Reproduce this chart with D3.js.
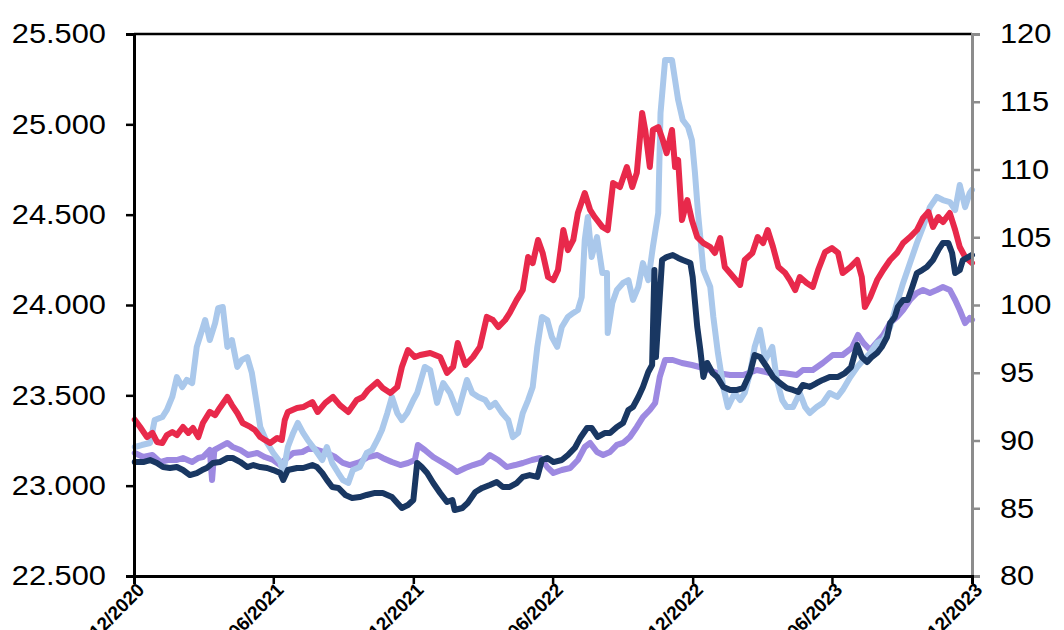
<!DOCTYPE html>
<html>
<head>
<meta charset="utf-8">
<script src="https://cdn.jsdelivr.net/npm/d3@7"></script>
<style>
  body { margin: 0; background: #fff; }
  svg { display: block; font-family: "Liberation Sans", Arial, sans-serif; }
</style>
</head>
<body>
<div id="chart"></div>
<script>
// day offsets are counted from 1 Dec 2020
const startDate = new Date(2020, 11, 1);
const endDate = new Date(2023, 11, 1);
const tickDates = [new Date(2020, 11, 1), new Date(2021, 5, 1), new Date(2021, 11, 1),
    new Date(2022, 5, 1), new Date(2022, 11, 1), new Date(2023, 5, 1), new Date(2023, 11, 1)];
const leftTicks = [22500, 23000, 23500, 24000, 24500, 25000, 25500];
const rightTicks = [80, 85, 90, 95, 100, 105, 110, 115, 120];

// red line, left axis
const redDays = [1, 8, 17, 24, 30, 37, 43, 50, 56, 64, 71, 77, 84, 90, 99, 106, 112, 122, 128, 135, 142, 152, 158, 165, 171, 178, 187, 193, 197, 201, 213, 221, 233, 240, 250, 260, 269, 280, 291, 299, 306, 318, 325, 335, 344, 350, 358, 367, 374, 387, 400, 409, 417, 423, 433, 443, 452, 461, 469, 476, 485, 491, 500, 508, 515, 521, 528, 534, 541, 548, 554, 561, 567, 574, 580, 589, 596, 602, 612, 619, 626, 635, 644, 651, 657, 664, 668, 674, 678, 685, 691, 696, 703, 707, 711, 716, 723, 729, 736, 744, 753, 759, 766, 772, 781, 792, 798, 808, 815, 822, 828, 835, 842, 851, 857, 864, 870, 879, 887, 894, 903, 912, 920, 926, 936, 945, 951, 955, 962, 971, 979, 988, 997, 1005, 1014, 1023, 1031, 1038, 1044, 1051, 1057, 1066, 1073, 1079, 1086, 1095];
const redValues = [23365, 23325, 23269, 23292, 23242, 23236, 23280, 23297, 23280, 23325, 23292, 23319, 23269, 23347, 23408, 23391, 23430, 23491, 23446, 23402, 23347, 23325, 23308, 23269, 23253, 23236, 23264, 23253, 23363, 23408, 23430, 23435, 23463, 23408, 23458, 23491, 23446, 23408, 23474, 23491, 23530, 23574, 23541, 23513, 23546, 23657, 23751, 23712, 23723, 23734, 23712, 23624, 23657, 23790, 23668, 23712, 23768, 23934, 23917, 23878, 23917, 23956, 24028, 24083, 24266, 24232, 24360, 24288, 24155, 24138, 24194, 24415, 24304, 24360, 24509, 24620, 24526, 24487, 24432, 24415, 24675, 24653, 24764, 24653, 24731, 25063, 24969, 24764, 24969, 24985, 24913, 24841, 24969, 24764, 24803, 24470, 24581, 24470, 24376, 24343, 24321, 24288, 24371, 24210, 24166, 24111, 24249, 24288, 24376, 24343, 24415, 24321, 24210, 24177, 24138, 24083, 24155, 24122, 24100, 24194, 24293, 24315, 24288, 24177, 24210, 24249, 24155, 23989, 24044, 24138, 24194, 24249, 24288, 24343, 24376, 24415, 24482, 24515, 24432, 24487, 24459, 24509, 24415, 24321, 24266, 24232];

// light blue line, left axis
const blueDays = [1, 10, 21, 27, 37, 43, 50, 56, 63, 69, 76, 82, 89, 93, 99, 106, 110, 116, 122, 128, 135, 141, 148, 154, 161, 165, 174, 182, 191, 195, 201, 208, 214, 221, 227, 237, 246, 252, 259, 267, 273, 280, 286, 295, 304, 311, 318, 324, 331, 337, 344, 350, 357, 365, 370, 380, 387, 396, 404, 413, 423, 435, 442, 450, 459, 465, 472, 481, 489, 495, 502, 508, 515, 521, 527, 533, 540, 546, 553, 559, 567, 574, 580, 585, 589, 593, 598, 605, 612, 618, 619, 625, 631, 639, 646, 652, 659, 665, 672, 678, 685, 688, 694, 703, 707, 711, 717, 724, 729, 733, 737, 744, 753, 757, 763, 770, 776, 785, 792, 798, 805, 811, 818, 825, 834, 840, 847, 853, 861, 870, 877, 883, 892, 900, 909, 919, 926, 936, 945, 953, 962, 971, 979, 988, 997, 1005, 1014, 1023, 1031, 1040, 1049, 1057, 1066, 1073, 1079, 1086, 1092, 1095];
const blueValues = [23214, 23225, 23236, 23363, 23380, 23419, 23491, 23601, 23546, 23585, 23568, 23768, 23862, 23917, 23806, 23900, 23983, 23989, 23768, 23806, 23657, 23696, 23712, 23624, 23435, 23325, 23236, 23181, 23131, 23070, 23214, 23292, 23347, 23292, 23253, 23197, 23142, 23214, 23125, 23070, 23031, 23015, 23087, 23103, 23181, 23197, 23253, 23308, 23402, 23491, 23402, 23363, 23402, 23474, 23513, 23657, 23640, 23458, 23568, 23513, 23402, 23585, 23513, 23491, 23474, 23435, 23458, 23402, 23363, 23269, 23292, 23402, 23474, 23546, 23768, 23934, 23917, 23823, 23768, 23878, 23934, 23956, 23972, 24044, 24360, 24487, 24266, 24376, 24177, 24177, 23845, 24011, 24083, 24122, 24138, 24028, 24100, 24232, 24138, 24321, 24509, 25063, 25356, 25356, 25245, 25135, 25024, 24985, 24913, 24731, 24509, 24194, 24100, 23934, 23734, 23546, 23435, 23513, 23474, 23513, 23624, 23768, 23862, 23696, 23768, 23585, 23474, 23435, 23435, 23513, 23435, 23402, 23435, 23458, 23513, 23491, 23530, 23601, 23657, 23696, 23734, 23790, 23806, 23878, 24011, 24122, 24232, 24343, 24432, 24542, 24598, 24581, 24570, 24526, 24664, 24542, 24620, 24637];

// dark navy line, right axis
const navyDays = [1, 12, 21, 30, 38, 47, 56, 64, 73, 82, 89, 95, 103, 112, 122, 129, 139, 148, 156, 165, 174, 182, 191, 195, 201, 213, 221, 233, 239, 246, 252, 259, 267, 276, 285, 295, 304, 315, 325, 337, 344, 350, 358, 365, 370, 376, 383, 391, 400, 409, 416, 419, 429, 436, 446, 455, 465, 474, 482, 491, 500, 508, 517, 527, 533, 540, 548, 559, 567, 576, 583, 592, 598, 606, 615, 622, 631, 639, 646, 652, 659, 665, 672, 677, 680, 682, 690, 696, 704, 711, 717, 727, 730, 736, 740, 744, 749, 756, 762, 770, 779, 788, 796, 805, 811, 818, 827, 835, 844, 853, 861, 868, 874, 883, 892, 900, 909, 920, 929, 937, 945, 951, 958, 964, 971, 977, 984, 988, 994, 998, 1005, 1011, 1017, 1023, 1030, 1036, 1044, 1051, 1057, 1064, 1069, 1073, 1079, 1083, 1090, 1095];
const navyValues = [88.41, 88.41, 88.56, 88.34, 88.04, 87.97, 88.04, 87.82, 87.45, 87.6, 87.82, 87.97, 88.34, 88.41, 88.71, 88.71, 88.41, 88.04, 88.19, 88.04, 87.97, 87.82, 87.6, 87.09, 87.82, 87.97, 87.97, 88.19, 88.04, 87.6, 87.09, 86.57, 86.5, 85.98, 85.76, 85.83, 85.98, 86.13, 86.13, 85.83, 85.39, 85.02, 85.24, 85.61, 88.34, 88.04, 87.6, 86.86, 86.13, 85.46, 85.61, 84.87, 85.02, 85.39, 86.2, 86.5, 86.72, 86.94, 86.57, 86.57, 86.86, 87.31, 87.45, 87.31, 88.56, 88.71, 88.41, 88.56, 88.93, 89.45, 90.18, 90.92, 90.92, 90.26, 90.55, 90.55, 91.0, 91.29, 92.25, 92.47, 93.21, 93.95, 95.06, 95.57, 102.58, 96.16, 103.32, 103.54, 103.69, 103.47, 103.32, 103.1, 102.07, 98.38, 96.68, 94.69, 95.72, 94.98, 94.69, 93.95, 93.73, 93.73, 93.87, 94.98, 96.31, 96.16, 95.42, 94.69, 94.24, 93.87, 93.73, 93.58, 94.1, 93.95, 94.24, 94.47, 94.69, 94.69, 94.98, 95.42, 97.05, 96.16, 95.79, 96.16, 96.46, 96.9, 97.64, 98.67, 99.11, 99.85, 100.37, 100.37, 101.33, 102.36, 102.58, 102.8, 103.32, 104.06, 104.58, 104.58, 103.84, 102.36, 102.58, 103.32, 103.54, 103.69];

// purple line, right axis
const purpleDays = [1, 12, 24, 34, 44, 56, 64, 76, 84, 90, 99, 102, 105, 110, 122, 129, 139, 149, 161, 171, 182, 191, 197, 208, 220, 230, 240, 252, 263, 273, 282, 295, 306, 318, 325, 337, 348, 358, 367, 371, 380, 391, 402, 413, 422, 433, 443, 455, 465, 476, 487, 498, 508, 520, 531, 540, 548, 559, 570, 580, 589, 596, 605, 613, 622, 631, 639, 648, 657, 665, 674, 681, 687, 694, 704, 716, 729, 744, 762, 779, 796, 814, 831, 848, 866, 874, 887, 900, 913, 926, 938, 946, 953, 962, 971, 979, 988, 997, 1005, 1014, 1023, 1031, 1040, 1049, 1057, 1066, 1073, 1079, 1086, 1092, 1095];
const purpleValues = [89.08, 88.78, 88.93, 88.41, 88.56, 88.56, 88.71, 88.41, 88.71, 88.78, 89.3, 87.09, 89.3, 89.45, 89.82, 89.52, 89.3, 88.93, 89.08, 88.78, 88.56, 88.19, 88.56, 89.08, 89.15, 89.45, 89.3, 89.08, 88.78, 88.34, 88.19, 88.41, 88.78, 88.93, 88.71, 88.41, 88.19, 88.34, 88.56, 89.67, 89.3, 88.78, 88.41, 88.04, 87.68, 87.97, 88.19, 88.41, 88.93, 88.56, 88.04, 88.19, 88.34, 88.56, 88.71, 88.04, 87.6, 87.82, 87.97, 88.56, 89.52, 89.82, 89.15, 88.93, 89.15, 89.67, 89.82, 90.26, 91.0, 91.73, 92.25, 92.77, 94.69, 95.94, 95.94, 95.72, 95.57, 95.35, 94.98, 94.83, 94.83, 95.2, 94.98, 94.98, 94.83, 95.2, 95.2, 95.72, 96.31, 96.31, 96.83, 97.79, 97.2, 96.68, 97.27, 97.79, 98.67, 99.11, 99.63, 100.37, 100.89, 101.11, 100.89, 101.11, 101.33, 101.11, 100.37, 99.63, 98.67, 99.04, 98.9];

const margin = { top: 34, right: 92, bottom: 54, left: 134 };
const width = 1064 - margin.left - margin.right;
const height = 630 - margin.top - margin.bottom;

const svg = d3.select('#chart')
    .append('svg')
    .attr('width', 1064)
    .attr('height', 630);

const g = svg.append('g')
    .attr('transform', `translate(${margin.left},${margin.top})`);

const x = d3.scaleTime().domain([startDate, endDate]).range([0, width]);
const yLeft = d3.scaleLinear().domain([22500, 25500]).range([height, 0]);
const yRight = d3.scaleLinear().domain([80, 120]).range([height, 0]);

const dotLocale = d3.formatLocale({ decimal: ',', thousands: '.', grouping: [3], currency: ['', ''] });
const fmtLeft = dotLocale.format(',');

function toPoints(days, values) {
    return days.map((d, i) => ({ date: d3.timeDay.offset(startDate, d), value: values[i] }));
}

const series = [
    { points: toPoints(purpleDays, purpleValues), y: yRight, color: '#9d89e1' },
    { points: toPoints(blueDays, blueValues), y: yLeft, color: '#aac8eb' },
    { points: toPoints(redDays, redValues), y: yLeft, color: '#e8294b' },
    { points: toPoints(navyDays, navyValues), y: yRight, color: '#193762' }
];

series.forEach(s => {
    const line = d3.line()
        .x(d => x(d.date))
        .y(d => s.y(d.value));
    g.append('path')
        .datum(s.points)
        .attr('d', line)
        .style('fill', 'none')
        .style('stroke', s.color)
        .style('stroke-width', 6)
        .style('stroke-linejoin', 'round')
        .style('stroke-linecap', 'round');
});

// top frame line
g.append('line')
    .attr('x1', 0).attr('x2', width)
    .attr('y1', 0).attr('y2', 0)
    .style('stroke', '#000')
    .style('stroke-width', 2.5);

// left axis
const leftAxis = g.append('g')
    .call(d3.axisLeft(yLeft).tickValues(leftTicks).tickFormat(fmtLeft).tickSize(8));
leftAxis.select('.domain').style('stroke', '#000').style('stroke-width', 3);
leftAxis.selectAll('.tick line').style('stroke', '#000').style('stroke-width', 2.5);
leftAxis.selectAll('text')
    .attr('x', 0)
    .attr('transform', 'translate(-28,0) scale(1.1,1)')
    .style('font-size', '28px')
    .style('fill', '#000')
    .style('font-family', '"Liberation Sans", Arial, sans-serif');

// right axis
const rightAxis = g.append('g')
    .attr('transform', `translate(${width},0)`)
    .call(d3.axisRight(yRight).tickValues(rightTicks).tickSize(8));
rightAxis.select('.domain').style('stroke', '#8c8c8c').style('stroke-width', 3);
rightAxis.selectAll('.tick line').style('stroke', '#8c8c8c').style('stroke-width', 2.5);
rightAxis.selectAll('text')
    .attr('x', 0)
    .attr('transform', 'translate(28,0) scale(1.1,1)')
    .style('font-size', '28px')
    .style('fill', '#000')
    .style('font-family', '"Liberation Sans", Arial, sans-serif');

// bottom axis (labels run off the bottom edge, as in the source image)
const bottomAxis = g.append('g')
    .attr('transform', `translate(0,${height})`)
    .call(d3.axisBottom(x).tickValues(tickDates).tickFormat(d3.timeFormat('%m/%Y')).tickSize(8));
bottomAxis.select('.domain').style('stroke', '#000').style('stroke-width', 3);
bottomAxis.selectAll('.tick line').style('stroke', '#000').style('stroke-width', 2.5);
bottomAxis.selectAll('text')
    .attr('y', 0)
    .attr('dy', 0)
    .attr('transform', 'translate(11,15) rotate(-45)')
    .style('text-anchor', 'end')
    .style('font-size', '19px')
    .style('font-weight', 'bold')
    .style('fill', '#000')
    .style('font-family', '"Liberation Sans", Arial, sans-serif');
</script>
</body>
</html>
